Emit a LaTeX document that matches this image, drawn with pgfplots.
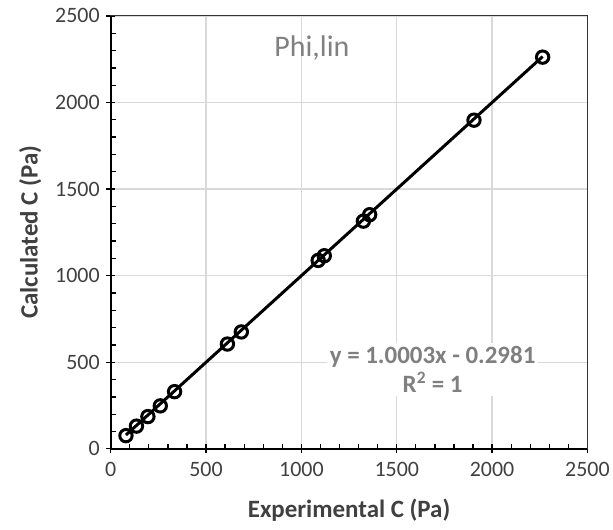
\documentclass[border=0pt]{standalone}
\usepackage{pgfplots}
\pgfplotsset{compat=1.18}
\usepackage{fontspec}
\setmainfont{Carlito}
\definecolor{txtgray}{HTML}{404040}
\definecolor{titlegray}{HTML}{808080}
\definecolor{eqgray}{HTML}{7F7F7F}
\definecolor{gridgray}{HTML}{D9D9D9}

\begin{document}
\begin{tikzpicture}
\begin{axis}[
  scale only axis,
  width=478pt, height=434pt,
  xmin=0, xmax=2500, ymin=0, ymax=2500,
  xtick={0,500,...,2500}, ytick={0,500,...,2500},
  xtick pos=left, ytick pos=left,
  minor x tick num=4, minor y tick num=4,
  grid=major,
  major grid style={gridgray, line width=1.2pt},
  axis line style={black!80, line width=1pt},
  tick align=center,
  major tick length=9pt,
  minor tick length=5pt,
  every tick/.style={black, line width=1.3pt},
  minor x tick style={yshift=2.5pt},
  minor y tick style={xshift=2.5pt},
  ticklabel style={font=\fontsize{22}{25}\selectfont, text=txtgray},
  /pgf/number format/assume math mode=true,
  /pgf/number format/1000 sep={},
  xticklabel style={yshift=-5pt},
  yticklabel style={xshift=-3pt},
  xlabel={\textbf{Experimental C (Pa)}},
  ylabel={\textbf{Calculated C (Pa)}},
  label style={font=\fontsize{25}{28}\selectfont, text=txtgray},
  xlabel style={yshift=-16pt},
  ylabel style={yshift=7pt},
  clip=false,
]
\draw[black, line width=2pt] (rel axis cs:0,1) -- (rel axis cs:0,0) -- (rel axis cs:1,0);
% trendline
\addplot[black, line width=3pt, forget plot] coordinates {(80,79.7) (2265,2265.4)};
% data
\addplot[only marks, mark=o, mark size=6.2pt, mark options={black, line width=3pt}] coordinates {
(80,76) (135,131) (195,186) (260,248) (335,330)
(612,605) (685,675)
(1088,1088) (1120,1115) (1325,1315) (1358,1352)
(1905,1898) (2265,2262)
};
\node[titlegray, font=\fontsize{30}{34}\selectfont] at (axis cs:1055,2316) {Phi,lin};
\node[eqgray, font=\bfseries\fontsize{25}{29}\selectfont, fill=white, align=center, inner sep=3pt]
  at (axis cs:1688,458) {y = 1.0003x - 0.2981\\R\textsuperscript{2} = 1};
\end{axis}
\path ([shift={(-111pt,-81pt)}]current axis.south west) rectangle ([shift={(24pt,16pt)}]current axis.north east);
\end{tikzpicture}
\end{document}
